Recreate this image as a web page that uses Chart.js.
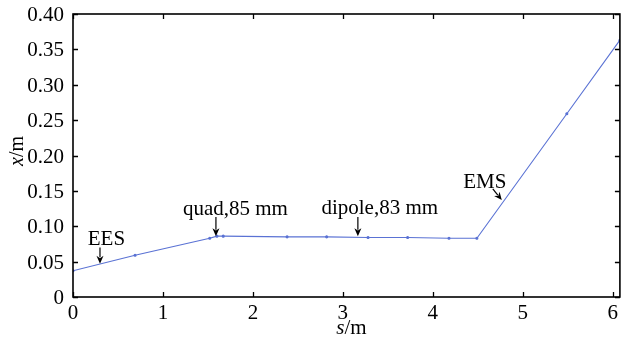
<!DOCTYPE html>
<html>
<head>
<meta charset="utf-8">
<script src="https://cdn.jsdelivr.net/npm/chart.js@4.4.0/dist/chart.umd.min.js"></script>
<style>
  html, body { margin: 0; padding: 0; background: #fff; }
  #wrap { width: 622px; height: 341px; }
</style>
</head>
<body>
<div id="wrap"><canvas id="orbit_chart" width="622" height="341"></canvas></div>
<script>
// s (m) along the line and orbit x (m)
const sPos   = [0, 0.69, 1.52, 1.6, 1.67, 2.38, 2.82, 3.28, 3.72, 4.18, 4.49, 5.49, 6.08];
const xOrbit = [0.037, 0.059, 0.083, 0.086, 0.086, 0.085, 0.085, 0.084, 0.084, 0.083, 0.083, 0.259, 0.363];

const sTicks      = [0, 1, 2, 3, 4, 5, 6];
const xTicks      = [0, 0.05, 0.10, 0.15, 0.20, 0.25, 0.30, 0.35, 0.40];
const xTickLabels = ['0', '0.05', '0.10', '0.15', '0.20', '0.25', '0.30', '0.35', '0.40'];

const noteLabels = ['EES', 'quad,85 mm', 'dipole,83 mm', 'EMS'];

const SERIF = '"Liberation Serif", "Times New Roman", serif';
const LINE_COLOR = '#5a72d4';

// where the notes and their arrows sit (data coords)
const notes = [
  { text: noteLabels[0], at: [0.372, 0.082], from: [0.30, 0.070],  to: [0.30, 0.047] },
  { text: noteLabels[1], at: [1.806, 0.124], from: [1.589, 0.113], to: [1.589, 0.086] },
  { text: noteLabels[2], at: [3.41, 0.125],  from: [3.167, 0.113], to: [3.167, 0.086] },
  { text: noteLabels[3], at: [4.578, 0.162], from: [4.667, 0.153], to: [4.767, 0.137] }
];

function drawArrow(ctx, x1, y1, x2, y2) {
  const ang = Math.atan2(y2 - y1, x2 - x1);
  const len = 8, wid = 3.5;
  ctx.beginPath();
  ctx.moveTo(x1, y1);
  ctx.lineTo(x2 - Math.cos(ang) * len * 0.8, y2 - Math.sin(ang) * len * 0.8);
  ctx.stroke();
  ctx.beginPath();
  ctx.moveTo(x2, y2);
  ctx.lineTo(x2 - Math.cos(ang) * len - Math.sin(ang) * wid, y2 - Math.sin(ang) * len + Math.cos(ang) * wid);
  ctx.lineTo(x2 - Math.cos(ang) * len * 0.7, y2 - Math.sin(ang) * len * 0.7);
  ctx.lineTo(x2 - Math.cos(ang) * len + Math.sin(ang) * wid, y2 - Math.sin(ang) * len - Math.cos(ang) * wid);
  ctx.closePath();
  ctx.fill();
}

function mixedTitle(ctx, ital, rest, size) {
  ctx.font = `italic ${size}px ${SERIF}`;
  const w1 = ctx.measureText(ital).width;
  ctx.font = `${size}px ${SERIF}`;
  const w2 = ctx.measureText(rest).width;
  const x0 = -(w1 + w2) / 2;
  ctx.textAlign = 'left';
  ctx.textBaseline = 'middle';
  ctx.font = `italic ${size}px ${SERIF}`;
  ctx.fillText(ital, x0, 0);
  ctx.font = `${size}px ${SERIF}`;
  ctx.fillText(rest, x0 + w1, 0);
}

const framePlugin = {
  id: 'frame',
  afterDraw(chart) {
    const { ctx, chartArea: a, scales } = chart;
    const xs = scales.x, ys = scales.y;
    ctx.save();
    ctx.strokeStyle = '#000';
    ctx.fillStyle = '#000';
    ctx.lineWidth = 1.6;
    ctx.strokeRect(a.left, a.top, a.right - a.left, a.bottom - a.top);

    // inward ticks on all four sides
    ctx.lineWidth = 1.3;
    ctx.beginPath();
    sTicks.forEach(v => {
      const px = Math.round(xs.getPixelForValue(v)) + 0.5;
      ctx.moveTo(px, a.bottom); ctx.lineTo(px, a.bottom - 5);
      ctx.moveTo(px, a.top);    ctx.lineTo(px, a.top + 5);
    });
    xTicks.forEach(v => {
      const py = Math.round(ys.getPixelForValue(v)) + 0.5;
      ctx.moveTo(a.left, py);  ctx.lineTo(a.left + 5, py);
      ctx.moveTo(a.right, py); ctx.lineTo(a.right - 5, py);
    });
    ctx.stroke();

    // tick labels
    ctx.font = `21px ${SERIF}`;
    ctx.textBaseline = 'alphabetic';
    ctx.textAlign = 'center';
    sTicks.forEach(v => {
      ctx.fillText(String(v), xs.getPixelForValue(v), a.bottom + 22);
    });
    ctx.textAlign = 'right';
    xTicks.forEach((v, i) => {
      ctx.fillText(xTickLabels[i], a.left - 9, ys.getPixelForValue(v) + 7);
    });

    // notes with arrows
    ctx.lineWidth = 1.2;
    ctx.font = `21px ${SERIF}`;
    ctx.textAlign = 'center';
    ctx.textBaseline = 'middle';
    notes.forEach(n => {
      ctx.fillText(n.text, xs.getPixelForValue(n.at[0]), ys.getPixelForValue(n.at[1]));
      drawArrow(ctx,
        xs.getPixelForValue(n.from[0]), ys.getPixelForValue(n.from[1]),
        xs.getPixelForValue(n.to[0]),   ys.getPixelForValue(n.to[1]));
    });

    // axis titles
    ctx.save();
    ctx.translate((a.left + a.right) / 2 + 5, 328);
    mixedTitle(ctx, 's', '/m', 21);
    ctx.restore();

    ctx.save();
    ctx.translate(18, 151);
    ctx.rotate(-Math.PI / 2);
    mixedTitle(ctx, 'x', '/m', 20);
    ctx.restore();

    ctx.restore();
  }
};

const ctx1 = document.getElementById('orbit_chart');

new Chart(ctx1, {
  type: 'line',
  data: {
    datasets: [{
      data: sPos.map((s, i) => ({ x: s, y: xOrbit[i] })),
      borderColor: LINE_COLOR,
      backgroundColor: LINE_COLOR,
      borderWidth: 1.1,
      pointRadius: 1,
      pointHoverRadius: 1,
      tension: 0
    }]
  },
  options: {
    responsive: false,
    animation: false,
    events: [],
    layout: { padding: { top: 14, right: 2, left: 0, bottom: 0 } },
    plugins: { legend: { display: false }, tooltip: { enabled: false } },
    scales: {
      x: {
        type: 'linear',
        min: 0,
        max: 6.08,
        afterBuildTicks: s => { s.ticks = sTicks.map(v => ({ value: v })); },
        afterFit: s => { s.height = 44; },
        grid: { display: false, drawTicks: false },
        border: { display: false },
        ticks: { display: false }
      },
      y: {
        min: 0,
        max: 0.40,
        afterBuildTicks: s => { s.ticks = xTicks.map(v => ({ value: v })); },
        afterFit: s => { s.width = 73; },
        grid: { display: false, drawTicks: false },
        border: { display: false },
        ticks: { display: false }
      }
    }
  },
  plugins: [framePlugin]
});
</script>
</body>
</html>
